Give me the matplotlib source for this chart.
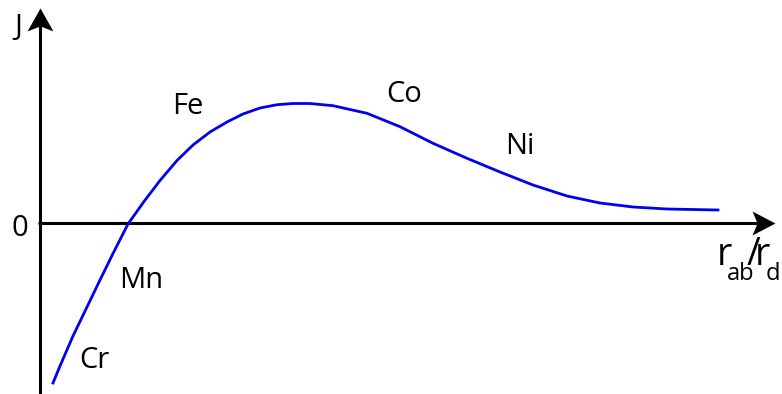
import matplotlib
matplotlib.use("Agg")
import matplotlib.pyplot as plt

plt.rcParams["font.family"] = ["Open Sans", "DejaVu Sans"]

# courbe de Bethe-Slater (unites arbitraires)
ratio = [0.13, 0.20, 0.33, 0.47, 0.60, 0.73, 0.88, 1.04, 1.20, 1.37, 1.53, 1.70,
         1.87, 2.03, 2.20, 2.37, 2.53, 2.70, 2.93, 3.27, 3.60, 3.93, 4.27, 4.60,
         4.93, 5.27, 5.60, 5.93, 6.27, 6.78]
exchange = [-1.60, -1.43, -1.13, -0.84, -0.57, -0.305, -0.01, 0.215, 0.425, 0.625, 0.78, 0.91,
            1.01, 1.09, 1.15, 1.183, 1.195, 1.195, 1.173, 1.097, 0.963, 0.797, 0.647, 0.51,
            0.38, 0.27, 0.20, 0.16, 0.14, 0.13]

elements = ["Cr", "Mn", "Fe", "Co", "Ni"]
elem_x = [0.54, 1.01, 1.48, 3.64, 4.80]
elem_y = [-1.37, -0.58, 1.16, 1.29, 0.77]

fig = plt.figure(figsize=(7.82, 3.94), dpi=100)
ax = fig.add_axes([0, 0, 1, 1])
ax.set_xlim(-0.40, 7.42)
ax.set_ylim(-1.71, 2.23)
ax.set_axis_off()

lw_ax = 2.2
# axes + fleches
ax.plot([0, 0], [-1.75, 1.98], color="black", lw=lw_ax, solid_capstyle="butt")
ax.plot([-0.02, 7.18], [0, 0], color="black", lw=lw_ax, solid_capstyle="butt")
head_up = [(0, 0), (-13, -23), (0, -18), (13, -23), (0, 0)]
head_right = [(0, 0), (-23, 12), (-18, 0), (-23, -12), (0, 0)]
ax.plot(0, 2.15, marker=head_up, ms=33, color="black", mew=0)
ax.plot(7.35, 0, marker=head_right, ms=33, color="black", mew=0)

ax.plot(ratio, exchange, color="#0000ee", lw=2.0, solid_joinstyle="round")

fs = 21
for name, x, y in zip(elements, elem_x, elem_y):
    ax.text(x, y, name, fontsize=fs, ha="center", va="center")

ax.text(-0.22, 1.95, "J", fontsize=fs, ha="center", va="center")
ax.text(-0.20, -0.05, "0", fontsize=fs, ha="center", va="center")

# r_ab / r_d (morceau par morceau pour coller a l'original)
ax.text(6.77, -0.42, "r", fontsize=27, ha="left", va="baseline")
ax.text(6.87, -0.57, "ab", fontsize=17, ha="left", va="baseline")
ax.text(7.07, -0.42, "/", fontsize=27, ha="left", va="baseline")
ax.text(7.15, -0.42, "r", fontsize=27, ha="left", va="baseline")
ax.text(7.26, -0.57, "d", fontsize=17, ha="left", va="baseline")

fig.savefig("out.png", dpi=100)
